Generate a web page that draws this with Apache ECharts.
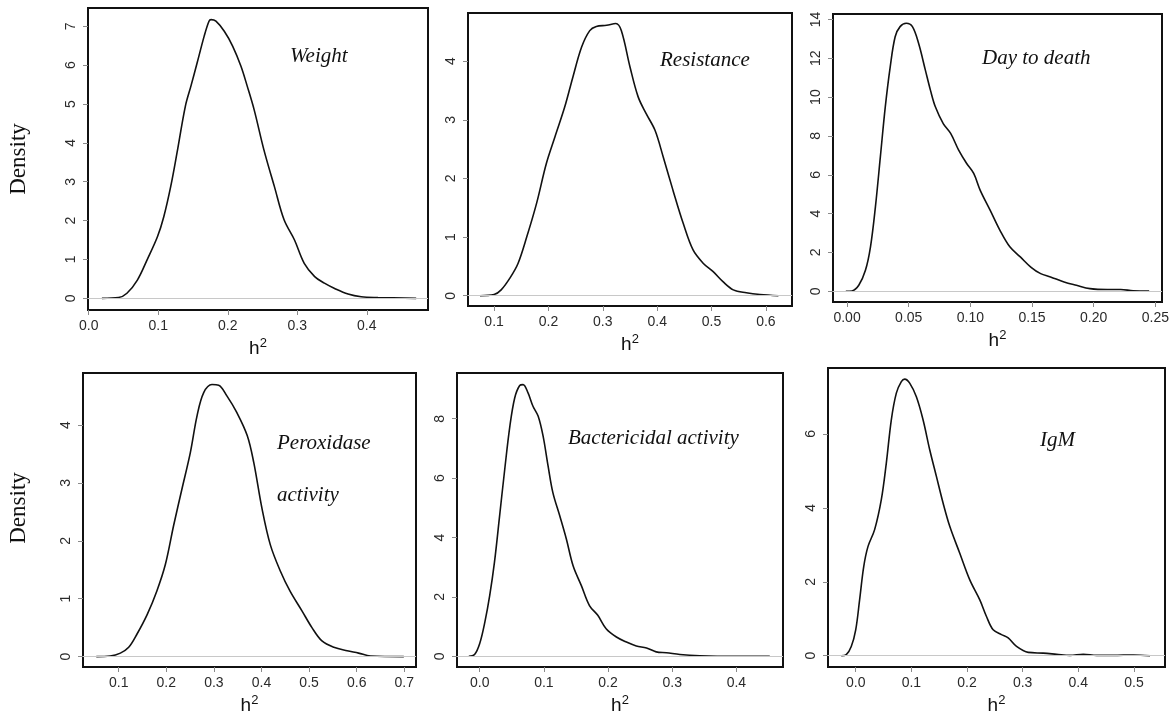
<!DOCTYPE html>
<html>
<head>
<meta charset="utf-8">
<script src="https://cdn.jsdelivr.net/npm/echarts@6/dist/echarts.min.js"></script>
<style>
  html, body { margin: 0; padding: 0; background: #fff; }
  #chart { width: 1176px; height: 716px; }
</style>
</head>
<body>
<div id="chart"></div>
<script>
// posterior densities of h2
const weightH2 = [0.019, 0.043, 0.055, 0.07, 0.084, 0.099, 0.108, 0.118, 0.127, 0.139, 0.147, 0.156, 0.166, 0.173, 0.176, 0.183, 0.195, 0.207, 0.219, 0.228, 0.238, 0.252, 0.267, 0.281, 0.296, 0.31, 0.325, 0.339, 0.353, 0.373, 0.392, 0.416, 0.471]
const weightDens = [0, 0.02, 0.13, 0.47, 0.99, 1.59, 2.1, 2.88, 3.74, 4.94, 5.46, 6.06, 6.74, 7.13, 7.17, 7.13, 6.87, 6.49, 5.97, 5.46, 4.85, 3.82, 2.88, 2.02, 1.5, 0.9, 0.56, 0.39, 0.26, 0.11, 0.04, 0.02, 0]

const resistH2 = [0.074, 0.1, 0.113, 0.129, 0.144, 0.16, 0.178, 0.196, 0.212, 0.23, 0.245, 0.261, 0.276, 0.288, 0.307, 0.324, 0.334, 0.35, 0.365, 0.38, 0.396, 0.411, 0.429, 0.448, 0.466, 0.485, 0.503, 0.521, 0.54, 0.564, 0.589, 0.623]
const resistDens = [0, 0.02, 0.1, 0.3, 0.55, 1.0, 1.57, 2.25, 2.71, 3.22, 3.73, 4.24, 4.52, 4.59, 4.61, 4.64, 4.52, 3.9, 3.39, 3.1, 2.82, 2.37, 1.8, 1.23, 0.78, 0.55, 0.41, 0.24, 0.1, 0.05, 0.02, 0]

const deathH2 = [-0.001, 0.004, 0.0095, 0.0149, 0.019, 0.023, 0.027, 0.031, 0.035, 0.039, 0.043, 0.048, 0.053, 0.058, 0.0635, 0.0676, 0.0716, 0.078, 0.084, 0.0905, 0.097, 0.1027, 0.108, 0.116, 0.124, 0.132, 0.1405, 0.149, 0.157, 0.165, 0.176, 0.186, 0.197, 0.211, 0.222, 0.232, 0.245]
const deathDens = [0, 0.02, 0.31, 1.08, 2.29, 4.35, 6.92, 9.5, 11.56, 13.11, 13.63, 13.8, 13.63, 12.77, 11.39, 10.36, 9.5, 8.64, 8.13, 7.27, 6.58, 6.07, 5.2, 4.18, 3.14, 2.29, 1.77, 1.25, 0.91, 0.74, 0.48, 0.31, 0.14, 0.09, 0.09, 0.03, 0.02]

const peroxH2 = [0.053, 0.082, 0.1035, 0.121, 0.1385, 0.16, 0.18, 0.198, 0.2155, 0.233, 0.2506, 0.2646, 0.2786, 0.296, 0.31, 0.3276, 0.348, 0.37, 0.3836, 0.401, 0.4186, 0.44, 0.46, 0.485, 0.506, 0.527, 0.552, 0.58, 0.604, 0.629, 0.699]
const peroxDens = [0, 0.01, 0.06, 0.16, 0.39, 0.73, 1.13, 1.59, 2.27, 2.9, 3.53, 4.16, 4.56, 4.7, 4.69, 4.5, 4.22, 3.82, 3.36, 2.56, 1.93, 1.47, 1.13, 0.79, 0.5, 0.27, 0.16, 0.1, 0.06, 0.01, 0]

const bactH2 = [-0.017, -0.008, 0, 0.008, 0.0156, 0.023, 0.031, 0.039, 0.047, 0.0545, 0.0623, 0.0675, 0.0753, 0.083, 0.091, 0.0987, 0.1065, 0.114, 0.1247, 0.135, 0.1455, 0.1584, 0.171, 0.184, 0.197, 0.213, 0.2286, 0.244, 0.26, 0.275, 0.291, 0.312, 0.343, 0.395, 0.452]
const bactDens = [0, 0.06, 0.43, 1.15, 2.05, 3.17, 4.73, 6.3, 7.75, 8.7, 9.12, 9.15, 8.87, 8.42, 8.09, 7.42, 6.41, 5.51, 4.73, 3.95, 3.05, 2.38, 1.71, 1.38, 0.93, 0.65, 0.48, 0.35, 0.28, 0.15, 0.12, 0.06, 0.02, 0, 0]

const igmH2 = [-0.026, -0.017, -0.008, 0, 0.007, 0.0144, 0.022, 0.034, 0.046, 0.055, 0.064, 0.073, 0.082, 0.088, 0.097, 0.109, 0.121, 0.133, 0.145, 0.157, 0.169, 0.187, 0.205, 0.223, 0.235, 0.247, 0.262, 0.274, 0.289, 0.31, 0.337, 0.361, 0.385, 0.409, 0.433, 0.463, 0.499, 0.529]
const igmDens = [0, 0.03, 0.25, 0.7, 1.51, 2.41, 2.95, 3.41, 4.22, 5.21, 6.38, 7.1, 7.41, 7.48, 7.37, 7.0, 6.38, 5.57, 4.85, 4.13, 3.5, 2.77, 2.05, 1.51, 1.06, 0.7, 0.57, 0.48, 0.25, 0.09, 0.07, 0.04, 0.01, 0.04, 0.01, 0.01, 0.02, 0]

// tick labels
const weightXTicks = [0, 0.1, 0.2, 0.3, 0.4]
const weightYTicks = [0, 1, 2, 3, 4, 5, 6, 7]
const resistXTicks = [0.1, 0.2, 0.3, 0.4, 0.5, 0.6]
const resistYTicks = [0, 1, 2, 3, 4]
const deathXTicks = [0, 0.05, 0.1, 0.15, 0.2, 0.25]
const deathYTicks = [0, 2, 4, 6, 8, 10, 12, 14]
const peroxXTicks = [0.1, 0.2, 0.3, 0.4, 0.5, 0.6, 0.7]
const peroxYTicks = [0, 1, 2, 3, 4]
const bactXTicks = [0, 0.1, 0.2, 0.3, 0.4]
const bactYTicks = [0, 2, 4, 6, 8]
const igmXTicks = [0, 0.1, 0.2, 0.3, 0.4, 0.5]
const igmYTicks = [0, 2, 4, 6]

const panels = [
  { title: ['Weight'], h2: weightH2, dens: weightDens, xt: weightXTicks, yt: weightYTicks, dec: 1,
    box: [88, 8, 340, 302], xr: [-0.001, 0.488], yr: [-0.30, 7.47], tp: [290, 58] },
  { title: ['Resistance'], h2: resistH2, dens: resistDens, xt: resistXTicks, yt: resistYTicks, dec: 1,
    box: [468, 13, 324, 293], xr: [0.052, 0.648], yr: [-0.175, 4.82], tp: [660, 62] },
  { title: ['Day to death'], h2: deathH2, dens: deathDens, xt: deathXTicks, yt: deathYTicks, dec: 2,
    box: [833, 14, 329, 288], xr: [-0.0114, 0.2554], yr: [-0.55, 14.28], tp: [982, 60] },
  { title: ['Peroxidase', 'activity'], h2: peroxH2, dens: peroxDens, xt: peroxXTicks, yt: peroxYTicks, dec: 1,
    box: [83, 373, 333, 297], xr: [0.025, 0.7246], yr: [-0.18, 4.90], tp: [277, 445] },
  { title: ['Bactericidal activity'], h2: bactH2, dens: bactDens, xt: bactXTicks, yt: bactYTicks, dec: 1,
    box: [457, 373, 326, 295], xr: [-0.0354, 0.4726], yr: [-0.36, 9.54], tp: [568, 440] },
  { title: ['IgM'], h2: igmH2, dens: igmDens, xt: igmXTicks, yt: igmYTicks, dec: 1,
    box: [828, 368, 337, 299], xr: [-0.0498, 0.5558], yr: [-0.305, 7.78], tp: [1040, 442] },
]

const SANS = '"Liberation Sans", Arial, sans-serif'
const SERIF = '"Liberation Serif", "Times New Roman", serif'
const TICK_FONT = { color: '#2a2a2a', fontFamily: SANS, fontSize: 14 }

const chart = echarts.init(document.getElementById('chart'))

const grid = [], xAxis = [], yAxis = [], series = [], graphic = []

panels.forEach((p, i) => {
  grid.push({
    left: p.box[0], top: p.box[1], width: p.box[2], height: p.box[3],
    show: true, borderColor: '#111', borderWidth: 2, backgroundColor: 'transparent',
  })
  xAxis.push({
    type: 'value', gridIndex: i, min: p.xr[0], max: p.xr[1],
    axisLine: { show: false, onZero: false },
    axisTick: { show: true, inside: false, length: 5, customValues: p.xt, lineStyle: { color: '#8a8a8a' } },
    axisLabel: { ...TICK_FONT, margin: 9, customValues: p.xt, formatter: (v) => v.toFixed(p.dec) },
    splitLine: { show: false },
    name: '{b|h}{s|2}', nameLocation: 'middle', nameGap: 27,
    nameTextStyle: {
      rich: {
        b: { fontFamily: SANS, fontSize: 19, lineHeight: 21, verticalAlign: 'bottom', color: '#111' },
        s: { fontFamily: SANS, fontSize: 13, lineHeight: 13, verticalAlign: 'top', color: '#111' },
      },
    },
  })
  yAxis.push({
    type: 'value', gridIndex: i, min: p.yr[0], max: p.yr[1],
    axisLine: { show: false, onZero: false },
    axisTick: { show: true, inside: false, length: 5, customValues: p.yt, lineStyle: { color: '#8a8a8a' } },
    axisLabel: { ...TICK_FONT, margin: 10, rotate: 90, customValues: p.yt },
    splitLine: { show: false },
  })
  series.push({
    type: 'line', xAxisIndex: i, yAxisIndex: i,
    data: p.h2.map((x, k) => [x, p.dens[k]]),
    smooth: 0.35, showSymbol: false, silent: true,
    lineStyle: { color: '#111', width: 1.6 },
    markLine: {
      silent: true, symbol: ['none', 'none'], label: { show: false },
      lineStyle: { color: '#c8c8c8', type: 'solid', width: 1 },
      data: [{ yAxis: 0 }],
    },
    z: 3,
  })
  p.title.forEach((t, k) => {
    graphic.push({
      type: 'text', left: p.tp[0], top: p.tp[1] - 12 + k * 52,
      style: { text: t, font: 'italic 21px ' + SERIF, fill: '#111' },
    })
  })
})

// shared y label of each row
;[159, 508].forEach((cy) => {
  graphic.push({
    type: 'text', x: 19, y: cy, rotation: Math.PI / 2,
    style: { text: 'Density', font: '23px ' + SERIF, fill: '#111', align: 'center', verticalAlign: 'middle' },
  })
})

chart.setOption({
  animation: false,
  backgroundColor: '#fff',
  grid, xAxis, yAxis, series, graphic,
})
</script>
</body>
</html>
